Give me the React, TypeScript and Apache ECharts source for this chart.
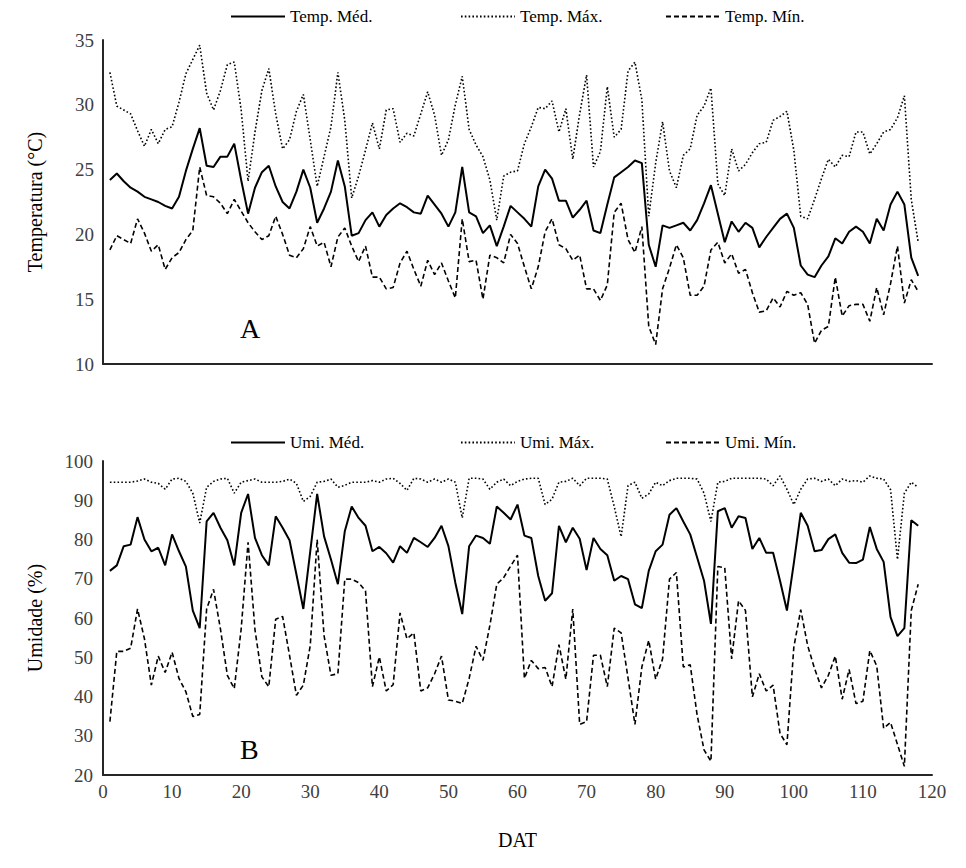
import React, { useEffect, useRef } from "react";
import * as echarts from "echarts";

// Dias após o transplantio (DAT)
const dat = [
  1, 2, 3, 4, 5, 6, 7, 8, 9, 10, 11, 12, 13, 14, 15, 16, 17, 18, 19, 20,
  21, 22, 23, 24, 25, 26, 27, 28, 29, 30, 31, 32, 33, 34, 35, 36, 37, 38, 39, 40,
  41, 42, 43, 44, 45, 46, 47, 48, 49, 50, 51, 52, 53, 54, 55, 56, 57, 58, 59, 60,
  61, 62, 63, 64, 65, 66, 67, 68, 69, 70, 71, 72, 73, 74, 75, 76, 77, 78, 79, 80,
  81, 82, 83, 84, 85, 86, 87, 88, 89, 90, 91, 92, 93, 94, 95, 96, 97, 98, 99, 100,
  101, 102, 103, 104, 105, 106, 107, 108, 109, 110, 111, 112, 113, 114, 115, 116, 117, 118,
];

// Temperatura (°C)
const tempMed = [
  24.2, 24.7, 24.1, 23.6, 23.3, 22.9, 22.7, 22.5, 22.2, 22.0,
  22.9, 24.9, 26.6, 28.2, 25.3, 25.2, 26.0, 26.0, 27.0, 24.2,
  21.6, 23.6, 24.8, 25.3, 23.7, 22.5, 22.0, 23.3, 25.0, 23.6,
  20.9, 22.0, 23.3, 25.7, 23.7, 19.9, 20.1, 21.1, 21.7, 20.6,
  21.5, 22.0, 22.4, 22.1, 21.7, 21.6, 23.0, 22.3, 21.6, 20.6,
  21.7, 25.2, 21.7, 21.4, 20.1, 20.7, 19.1, 20.6, 22.2, 21.7,
  21.2, 20.6, 23.7, 25.0, 24.3, 22.6, 22.6, 21.3, 21.9, 22.6,
  20.3, 20.1, 22.3, 24.4, 24.8, 25.2, 25.7, 25.5, 19.2, 17.5,
  20.7, 20.5, 20.7, 20.9, 20.3, 21.1, 22.4, 23.8, 21.6, 19.4,
  21.0, 20.2, 20.9, 20.5, 19.0, 19.8, 20.5, 21.2, 21.6, 20.5,
  17.6, 16.9, 16.7, 17.6, 18.3, 19.7, 19.3, 20.2, 20.6, 20.2,
  19.3, 21.2, 20.3, 22.3, 23.3, 22.3, 18.2, 16.8,
];
const tempMax = [
  32.5, 29.9, 29.6, 29.3, 28.0, 26.8, 28.1, 27.0, 28.1, 28.3,
  30.2, 32.4, 33.5, 34.6, 30.9, 29.6, 31.1, 33.1, 33.3, 29.6,
  24.1, 27.9, 31.1, 32.8, 29.3, 26.6, 27.3, 29.5, 30.8, 27.3,
  23.7, 26.0, 28.3, 32.5, 28.8, 22.8, 24.5, 26.5, 28.6, 26.6,
  29.6, 29.7, 27.1, 27.8, 27.6, 29.3, 31.0, 29.2, 26.1, 27.3,
  30.0, 32.2, 28.1, 26.9, 26.0, 24.2, 21.1, 24.5, 24.8, 24.9,
  27.0, 28.3, 29.8, 29.7, 30.3, 27.9, 29.7, 25.8, 29.3, 32.3,
  25.2, 26.4, 31.4, 27.5, 28.1, 32.6, 33.3, 30.4, 21.4, 25.5,
  28.7, 24.9, 23.6, 26.1, 26.6, 29.2, 29.9, 31.3, 23.9, 23.0,
  26.6, 24.9, 25.4, 26.3, 27.0, 27.1, 28.8, 29.1, 29.5, 26.5,
  21.4, 21.2, 22.7, 24.3, 25.8, 25.2, 26.1, 26.0, 27.9, 27.9,
  26.2, 27.0, 27.9, 28.1, 29.0, 30.7, 22.7, 19.4,
];
const tempMin = [
  18.8, 19.9, 19.6, 19.3, 21.2, 20.1, 18.7, 19.2, 17.3, 18.2,
  18.6, 19.6, 20.3, 25.2, 23.0, 22.9, 22.4, 21.6, 22.7, 21.8,
  20.9, 20.2, 19.6, 19.9, 21.4, 20.0, 18.4, 18.2, 18.9, 20.6,
  19.1, 19.4, 17.5, 19.8, 20.5, 19.1, 17.9, 19.1, 16.7, 16.7,
  15.8, 15.9, 17.8, 18.7, 17.3, 16.0, 18.0, 16.9, 17.8, 16.4,
  15.1, 21.2, 17.9, 18.0, 15.0, 18.4, 18.2, 17.8, 20.0, 19.3,
  17.5, 15.8, 17.5, 20.2, 21.2, 19.2, 18.9, 18.0, 18.4, 15.8,
  15.8, 14.9, 16.1, 21.7, 22.4, 19.6, 18.6, 20.6, 12.9, 11.5,
  15.8, 17.4, 19.2, 18.2, 15.3, 15.3, 16.0, 18.8, 19.4, 17.8,
  18.5, 17.0, 17.3, 15.5, 14.0, 14.1, 15.1, 14.4, 15.6, 15.3,
  15.5, 14.6, 11.6, 12.6, 12.9, 16.7, 13.7, 14.5, 14.6, 14.6,
  13.3, 15.9, 13.8, 16.2, 19.1, 14.7, 16.5, 15.6,
];

// Umidade relativa (%)
const umiMed = [
  72.0, 73.4, 78.3, 78.7, 85.7, 80.0, 77.0, 77.9, 73.4, 81.3,
  77.0, 73.1, 61.9, 57.4, 84.6, 86.8, 83.0, 79.8, 73.4, 86.8,
  91.6, 80.4, 76.0, 73.4, 85.9, 83.0, 79.8, 71.1, 62.3, 77.0,
  91.6, 80.8, 74.9, 68.6, 82.1, 88.4, 85.5, 83.5, 77.0, 78.1,
  76.5, 74.1, 78.3, 76.6, 80.4, 79.3, 78.1, 80.4, 83.5, 78.3,
  69.0, 61.0, 78.3, 81.0, 80.4, 78.9, 88.4, 86.8, 85.1, 88.9,
  81.0, 80.4, 70.7, 64.4, 66.3, 83.5, 79.3, 83.0, 80.2, 72.2,
  80.4, 77.6, 76.0, 69.5, 70.7, 69.9, 63.5, 62.5, 72.0, 77.0,
  78.7, 86.3, 88.0, 84.6, 81.3, 75.4, 69.5, 58.5, 87.2, 88.0,
  83.0, 85.9, 85.5, 77.6, 80.4, 76.6, 76.6, 69.5, 61.9, 74.0,
  86.8, 83.5, 77.0, 77.3, 80.1, 81.3, 76.6, 74.1, 74.0, 74.9,
  83.2, 77.6, 74.3, 60.2, 55.4, 57.4, 84.9, 83.5,
];
const umiMax = [
  94.6, 94.6, 94.6, 94.6, 94.9, 95.4, 94.6, 94.3, 92.8, 95.4,
  95.6, 94.8, 91.8, 84.2, 93.3, 94.8, 95.4, 95.6, 91.8, 94.6,
  95.0, 95.4, 94.6, 94.6, 94.6, 94.8, 95.4, 94.3, 89.7, 91.0,
  94.6, 94.8, 95.4, 93.3, 93.8, 94.6, 94.6, 94.6, 95.0, 94.6,
  95.4, 95.6, 94.3, 92.5, 95.6, 95.4, 94.6, 95.4, 94.6, 95.4,
  94.6, 85.5, 95.6, 95.6, 95.4, 92.8, 94.6, 95.4, 93.7, 94.8,
  95.4, 95.6, 95.6, 88.9, 90.3, 94.6, 94.8, 95.6, 93.7, 95.6,
  95.6, 95.6, 95.4, 88.4, 80.7, 93.7, 94.6, 90.5, 91.6, 94.6,
  93.7, 95.0, 95.6, 95.6, 95.6, 95.4, 91.8, 84.6, 94.6, 94.8,
  95.6, 95.6, 95.6, 95.6, 95.6, 95.4, 93.7, 96.2, 92.8, 88.9,
  92.8, 95.4, 95.6, 94.8, 95.4, 93.7, 95.4, 94.8, 95.0, 94.6,
  96.2, 95.6, 95.4, 92.7, 74.9, 91.8, 94.6, 93.3,
];
const umiMin = [
  33.6, 51.5, 51.5, 52.3, 62.3, 54.7, 42.9, 50.3, 46.1, 51.3,
  44.6, 41.2, 34.9, 35.4, 62.3, 67.3, 57.2, 45.4, 42.0, 57.2,
  79.3, 57.0, 45.0, 42.5, 59.7, 60.4, 50.5, 40.3, 42.9, 53.0,
  80.0, 55.5, 45.4, 45.8, 69.9, 69.9, 69.0, 66.9, 42.5, 50.1,
  41.4, 43.0, 61.3, 54.7, 56.2, 41.4, 42.2, 45.8, 50.3, 39.1,
  38.8, 38.2, 44.6, 52.8, 49.2, 58.1, 68.6, 70.3, 73.2, 76.0,
  44.6, 49.2, 47.1, 47.4, 42.5, 53.2, 44.4, 62.3, 32.9, 33.6,
  50.5, 50.5, 42.5, 57.4, 56.2, 44.7, 32.9, 47.5, 54.3, 44.4,
  49.6, 69.9, 71.6, 47.5, 48.1, 35.3, 26.4, 23.5, 73.1, 72.8,
  49.6, 64.4, 61.9, 39.9, 45.8, 41.4, 42.9, 30.6, 27.7, 52.6,
  62.1, 53.0, 47.1, 42.2, 45.4, 50.3, 39.3, 46.9, 38.2, 38.8,
  51.7, 47.8, 31.9, 33.4, 27.8, 22.2, 61.9, 68.6,
];

const FONT = "'Liberation Serif', 'Times New Roman', serif";
const INK = "#000000";
const LABEL = "#404040";

function pairs(ys: number[]) {
  return dat.map((d, i) => [d, ys[i]]);
}

const solid = { color: INK, width: 2, type: "solid" as const };
const dotted = { color: INK, width: 1.6, type: [1.6, 2.2] as any };
const dashed = { color: INK, width: 1.6, type: [5, 3] as any };

function legendItem(name: string, left: number, top: number) {
  return {
    show: true,
    data: [name],
    left,
    top,
    orient: "horizontal",
    itemWidth: 54,
    itemHeight: 10,
    itemGap: 4,
    itemStyle: { opacity: 0 },
    textStyle: { fontFamily: FONT, fontSize: 17, color: INK },
    selectedMode: false,
  };
}

export default function App() {
  const ref = useRef<HTMLDivElement>(null);

  useEffect(() => {
    if (!ref.current) return;
    const chart = echarts.init(ref.current, undefined, { renderer: "svg" });

    const axisLine = { show: true, lineStyle: { color: "#262626", width: 2 } };

    const option: any = {
      animation: false,
      backgroundColor: "#ffffff",
      textStyle: { fontFamily: FONT },
      grid: [
        { left: 103, right: 34, top: 40, height: 324 },
        { left: 103, right: 34, top: 461, height: 314 },
      ],
      xAxis: [
        {
          gridIndex: 0,
          type: "value",
          min: 0,
          max: 120,
          interval: 10,
          axisLine,
          axisTick: { show: false },
          axisLabel: { show: false },
          splitLine: { show: false },
        },
        {
          gridIndex: 1,
          type: "value",
          min: 0,
          max: 120,
          interval: 10,
          axisLine,
          axisTick: { show: false },
          axisLabel: {
            show: true,
            margin: 7,
            fontFamily: FONT,
            fontSize: 19,
            color: LABEL,
          },
          splitLine: { show: false },
          name: "DAT",
          nameLocation: "middle",
          nameGap: 55,
          nameTextStyle: { fontFamily: FONT, fontSize: 20, color: INK },
        },
      ],
      yAxis: [
        {
          gridIndex: 0,
          type: "value",
          min: 10,
          max: 35,
          interval: 5,
          axisLine,
          axisTick: { show: false },
          axisLabel: { margin: 9, fontFamily: FONT, fontSize: 19, color: LABEL },
          splitLine: { show: false },
          name: "Temperatura (°C)",
          nameLocation: "middle",
          nameGap: 58,
          nameTextStyle: { fontFamily: FONT, fontSize: 20, color: INK },
        },
        {
          gridIndex: 1,
          type: "value",
          min: 20,
          max: 100,
          interval: 10,
          axisLine,
          axisTick: { show: false },
          axisLabel: { margin: 10, fontFamily: FONT, fontSize: 19, color: LABEL },
          splitLine: { show: false },
          name: "Umidade (%)",
          nameLocation: "middle",
          nameGap: 58,
          nameTextStyle: { fontFamily: FONT, fontSize: 20, color: INK },
        },
      ],
      legend: [
        legendItem("Temp. Méd.", 225, 3),
        legendItem("Temp. Máx.", 455, 3),
        legendItem("Temp. Mín.", 660, 3),
        legendItem("Umi. Méd.", 225, 429),
        legendItem("Umi. Máx.", 455, 429),
        legendItem("Umi. Mín.", 660, 429),
      ],
      series: [
        { name: "Temp. Méd.", data: pairs(tempMed), lineStyle: solid },
        { name: "Temp. Máx.", data: pairs(tempMax), lineStyle: dotted },
        { name: "Temp. Mín.", data: pairs(tempMin), lineStyle: dashed },
        { name: "Umi. Méd.", data: pairs(umiMed), lineStyle: solid, xAxisIndex: 1, yAxisIndex: 1 },
        { name: "Umi. Máx.", data: pairs(umiMax), lineStyle: dotted, xAxisIndex: 1, yAxisIndex: 1 },
        { name: "Umi. Mín.", data: pairs(umiMin), lineStyle: dashed, xAxisIndex: 1, yAxisIndex: 1 },
      ].map((s: any) => ({
        type: "line",
        showSymbol: false,
        symbol: "none",
        itemStyle: { color: INK },
        xAxisIndex: 0,
        yAxisIndex: 0,
        ...s,
      })),
      graphic: [
        {
          type: "text",
          left: 240,
          top: 314,
          style: { text: "A", fontFamily: FONT, fontSize: 28, fill: INK },
        },
        {
          type: "text",
          left: 240,
          top: 735,
          style: { text: "B", fontFamily: FONT, fontSize: 28, fill: INK },
        },
      ],
    };

    chart.setOption(option);
    return () => chart.dispose();
  }, []);

  return (
    <div
      ref={ref}
      style={{ position: "fixed", left: 0, top: 0, width: 966, height: 868 }}
    />
  );
}
